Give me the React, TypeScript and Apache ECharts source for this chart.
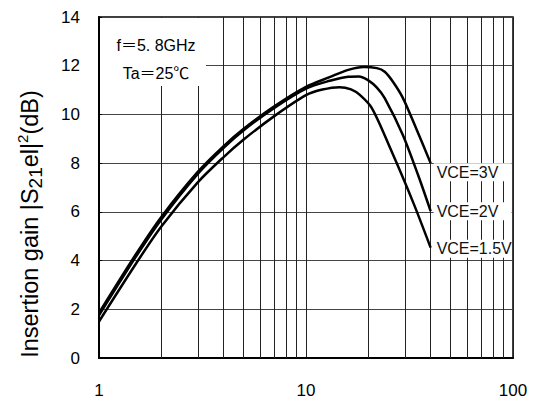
import React, { useEffect, useRef } from "react";
import * as echarts from "echarts";

const xTicks = [1, 10, 100];
const yMin = 0;
const yMax = 14;
const yStep = 2;
const minorGridX = [2, 3, 4, 5, 6, 7, 8, 9, 20, 30, 40, 50, 60, 70, 80, 90];

const x3V = [1, 1.5, 2, 3, 4, 5, 7, 10, 13, 16, 19, 22, 24, 26.3, 29.4, 34.3, 40];
const y3V = [1.85, 4.23, 5.79, 7.64, 8.7, 9.41, 10.32, 11.13, 11.53, 11.83, 11.95, 11.9, 11.75, 11.34, 10.67, 9.36, 8.0];

const x2V = [1, 1.5, 2, 3, 4, 5, 7, 10, 13, 16, 18, 20, 22, 24, 29.4, 35, 40];
const y2V = [1.75, 4.13, 5.69, 7.56, 8.63, 9.35, 10.26, 11.06, 11.38, 11.55, 11.56, 11.4, 11.1, 10.67, 9.15, 7.45, 6.03];

const x15V = [1, 1.5, 2, 3, 4, 5, 7, 10, 12, 14.5, 16.5, 18.2, 20.8, 25.5, 32.9, 40];
const y15V = [1.5, 3.84, 5.4, 7.21, 8.25, 8.97, 9.92, 10.79, 11.02, 11.12, 11.03, 10.8, 10.26, 8.62, 6.4, 4.53];

const seriesNames = ["VCE=3V", "VCE=2V", "VCE=1.5V"];
const labelOffsets = [[0, 9], [0, 0], [0, 1]];

const FONT = "'Liberation Sans', Arial, 'Noto Sans CJK JP', sans-serif";

function pairs(xs: number[], ys: number[]) {
  return xs.map((x, i) => [x, ys[i]]);
}

export default function App() {
  const ref = useRef<HTMLDivElement>(null);
  useEffect(() => {
    if (!ref.current) return;
    const chart = echarts.init(ref.current, undefined, { renderer: "svg" });
    const datas = [pairs(x3V, y3V), pairs(x2V, y2V), pairs(x15V, y15V)];
    const series: any[] = datas.map((d, i) => ({
      type: "line",
      name: seriesNames[i],
      data: d,
      showSymbol: false,
      smooth: 0.3,
      lineStyle: { color: "#000", width: 2.5 },
      z: 5,
      endLabel: {
        show: true,
        formatter: seriesNames[i],
        color: "#111",
        fontSize: 16,
        fontFamily: FONT,
        backgroundColor: "#fff",
        padding: [1, 3, 1, 3],
        width: 72,
        offset: labelOffsets[i],
        distance: 3,
      },
    }));
    series.push({
      type: "line",
      data: [],
      silent: true,
      z: 1,
      markLine: {
        silent: true,
        symbol: "none",
        label: { show: false },
        lineStyle: { color: "#222", width: 1, type: "solid" },
        data: minorGridX.map((v) => ({ xAxis: v })),
        z: 1,
      },
    });
    chart.setOption({
      animation: false,
      backgroundColor: "#fff",
      grid: {
        left: 99,
        right: 28,
        top: 17,
        bottom: 47,
        show: true,
        borderColor: "#000",
        borderWidth: 1.5,
        backgroundColor: "transparent",
      },
      xAxis: {
        type: "log",
        logBase: 10,
        min: xTicks[0],
        max: xTicks[xTicks.length - 1],
        axisLine: { show: true, lineStyle: { color: "#000", width: 2 } },
        axisTick: { show: false },
        axisLabel: { color: "#000", fontSize: 17, fontFamily: FONT, margin: 24 },
        splitLine: { show: true, lineStyle: { color: "#222", width: 1 } },
      },
      yAxis: {
        type: "value",
        min: yMin,
        max: yMax,
        interval: yStep,
        axisLine: { show: true, lineStyle: { color: "#000", width: 2 } },
        axisTick: { show: true, inside: true, length: 3, lineStyle: { color: "#000" } },
        axisLabel: { color: "#000", fontSize: 17, fontFamily: FONT, margin: 19 },
        splitLine: { show: true, lineStyle: { color: "#444", width: 1 } },
      },
      graphic: [
        {
          type: "rect",
          z: 10,
          shape: { x: 100, y: 18, width: 106, height: 68 },
          style: { fill: "#fff" },
        },
        {
          type: "text",
          z: 11,
          x: 156,
          y: 45,
          style: {
            text: "f＝5. 8GHz",
            fill: "#000",
            font: "16px " + FONT,
            align: "center",
            verticalAlign: "middle",
          },
        },
        {
          type: "text",
          z: 11,
          x: 156,
          y: 73,
          style: {
            text: "Ta＝25℃",
            fill: "#000",
            font: "16px " + FONT,
            align: "center",
            verticalAlign: "middle",
          },
        },
        {
          type: "text",
          z: 11,
          x: 30,
          y: 224,
          rotation: Math.PI / 2,
          style: {
            text: "{a|Insertion gain |S}{sub|21}{a|el|}{sup|2}{a|(dB)}",
            fill: "#000",
            align: "center",
            verticalAlign: "middle",
            rich: {
              a: { fontSize: 23.5, fontFamily: FONT, fill: "#000" },
              sub: { fontSize: 19, fontFamily: FONT, fill: "#000", padding: [10, 0, 0, 0] },
              sup: { fontSize: 15, fontFamily: FONT, fill: "#000", padding: [0, 0, 16, 0] },
            },
          },
        },
      ],
      series,
    });
    return () => chart.dispose();
  }, []);
  return <div ref={ref} style={{ width: 541, height: 405, margin: -8 }} />;
}
